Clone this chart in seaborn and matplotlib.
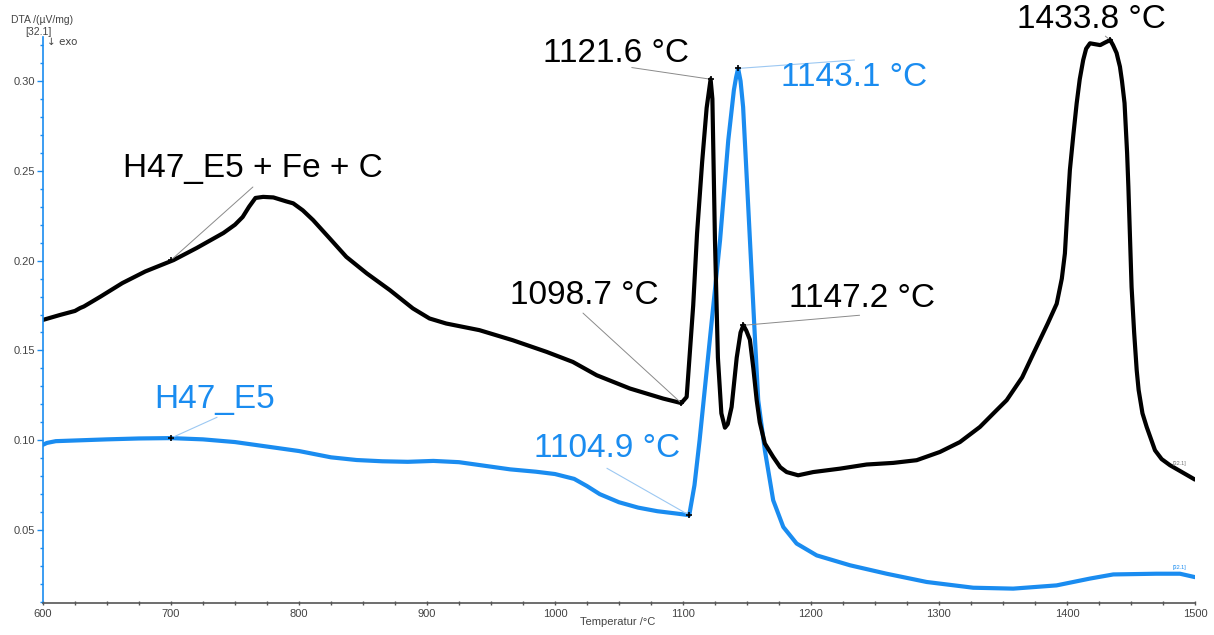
import matplotlib
matplotlib.use("Agg")
import matplotlib.pyplot as plt
import seaborn as sns
import numpy as np
import pandas as pd
from matplotlib.ticker import MultipleLocator, FormatStrFormatter

# ---- data ----
black_T = [600, 613, 625, 629, 632, 645, 662, 680, 702, 720, 741, 750, 756, 761, 766, 772,
           780, 785, 790, 795.5, 803, 811, 824, 837, 853, 871, 889, 902, 915, 941, 967,
           993.5, 1014, 1032.6, 1058.6, 1084.6, 1098.7, 1102.9, 1105.5, 1108, 1111, 1115,
           1118.5, 1121.6, 1123, 1125, 1127.3, 1130, 1132.8, 1135, 1138, 1142, 1145, 1147.2,
           1149.5, 1152.3, 1155, 1157.6, 1160, 1164, 1170.5, 1176, 1181, 1190, 1201.8,
           1222.7, 1243.5, 1264.3, 1282.6, 1300.8, 1316.4, 1332, 1345, 1352.9, 1365, 1374,
           1385, 1392, 1396, 1398.4, 1400.5, 1402.3, 1405, 1407.6, 1410, 1412.7, 1415, 1418,
           1422, 1426, 1430, 1433.8, 1436, 1438.8, 1440, 1441.4, 1443, 1445, 1447, 1448,
           1450.5, 1452.5, 1454.5, 1456, 1459, 1462.3, 1468.8, 1474, 1480.5, 1488.3, 1500]
black_v = [0.167, 0.1697, 0.172, 0.1736, 0.1745, 0.180, 0.1875, 0.194, 0.2003, 0.207,
           0.2154, 0.220, 0.2243, 0.230, 0.2349, 0.2355, 0.2352, 0.2341, 0.2330, 0.2319,
           0.228, 0.2226, 0.2124, 0.2021, 0.1929, 0.1836, 0.1734, 0.1678, 0.1650, 0.1613,
           0.1557, 0.1492, 0.1436, 0.1362, 0.1288, 0.1232, 0.1207, 0.1241, 0.150, 0.175,
           0.215, 0.255, 0.285, 0.301, 0.290, 0.2114, 0.146, 0.115, 0.107, 0.109, 0.1185,
           0.146, 0.160, 0.164, 0.161, 0.156, 0.140, 0.1223, 0.110, 0.0982, 0.0907, 0.085,
           0.0823, 0.0805, 0.0823, 0.0842, 0.0865, 0.0874, 0.0889, 0.0935, 0.0990, 0.1074,
           0.1167, 0.1223, 0.135, 0.1486, 0.165, 0.176, 0.190, 0.204, 0.230, 0.2505, 0.270,
           0.2876, 0.301, 0.3117, 0.318, 0.321, 0.3205, 0.320, 0.3215, 0.3228, 0.320,
           0.3156, 0.312, 0.308, 0.300, 0.2877, 0.260, 0.241, 0.1853, 0.160, 0.139, 0.128,
           0.115, 0.1074, 0.0944, 0.0895, 0.0861, 0.0829, 0.0781]

blue_T = [600, 603, 610, 630, 650, 675, 700, 725, 750, 775, 800, 825, 845, 865, 885, 905,
          925, 945, 965, 985, 1000, 1015, 1025, 1035, 1050, 1065, 1080, 1095, 1104.9, 1109,
          1113, 1121, 1129, 1135.4, 1139.8, 1141.5, 1143.1, 1145, 1147, 1151, 1156.3,
          1158.8, 1164, 1170.5, 1178.4, 1188.8, 1204.5, 1230.5, 1259.1, 1290.4, 1326.8,
          1358, 1391.9, 1418, 1436.2, 1470, 1488.3, 1500]
blue_v = [0.0975, 0.0985, 0.0995, 0.1000, 0.1005, 0.1010, 0.1012, 0.1005, 0.0990, 0.0965,
          0.0940, 0.0905, 0.0890, 0.0883, 0.0880, 0.0885, 0.0878, 0.0858, 0.0838, 0.0825,
          0.0812, 0.0785, 0.0745, 0.0700, 0.0655, 0.0625, 0.0605, 0.0592, 0.0583, 0.075,
          0.100, 0.156, 0.2115, 0.267, 0.295, 0.302, 0.307, 0.300, 0.2855, 0.230, 0.156,
          0.1223, 0.0944, 0.0666, 0.0517, 0.0425, 0.0359, 0.0304, 0.0257, 0.0211, 0.0179,
          0.0174, 0.0192, 0.0230, 0.0253, 0.0257, 0.0257, 0.0238]

black_marks_T = [700, 1098.7, 1121.6, 1147.2, 1433.8]
black_marks_v = [0.2003, 0.1207, 0.301, 0.164, 0.3228]
black_labels = ["H47_E5 + Fe + C", "1098.7 °C", "1121.6 °C", "1147.2 °C", "1433.8 °C"]

blue_marks_T = [700, 1104.9, 1143.1]
blue_marks_v = [0.1012, 0.0583, 0.307]
blue_labels = ["H47_E5", "1104.9 °C", "1143.1 °C"]

# ---- style ----
sns.set_style("white")
plt.rcParams['font.family'] = ['Liberation Sans', 'DejaVu Sans']

BLUE = '#1a8cf0'
GREY = '#444444'

fig = plt.figure(figsize=(12.14, 6.35), dpi=100)
ax = fig.add_axes([0.0354, 0.0504, 0.9489, 0.8913])

df_b = pd.DataFrame({"T": black_T, "v": black_v})
df_u = pd.DataFrame({"T": blue_T, "v": blue_v})
sns.lineplot(data=df_u, x="T", y="v", ax=ax, color=BLUE, lw=3.0, sort=False, estimator=None,
             solid_joinstyle='round', solid_capstyle='round')
sns.lineplot(data=df_b, x="T", y="v", ax=ax, color='black', lw=3.0, sort=False, estimator=None,
             solid_joinstyle='round', solid_capstyle='round')

ax.set_xlim(600, 1500)
ax.set_ylim(0.0094, 0.3245)
ax.set_xlabel("")
ax.set_ylabel("")

for s in ['top', 'right']:
    ax.spines[s].set_visible(False)
ax.spines['left'].set_color(BLUE)
ax.spines['left'].set_linewidth(1.2)
ax.spines['bottom'].set_color('#555555')
ax.spines['bottom'].set_linewidth(1.2)

ax.xaxis.set_major_locator(MultipleLocator(100))
ax.xaxis.set_minor_locator(MultipleLocator(25))
ax.yaxis.set_major_locator(MultipleLocator(0.05))
ax.yaxis.set_minor_locator(MultipleLocator(0.01))
ax.yaxis.set_major_formatter(FormatStrFormatter('%.2f'))
ax.tick_params(axis='x', which='both', direction='inout', length=3, width=1,
               color='#555555', labelsize=8, labelcolor=GREY, pad=3, bottom=True)
ax.tick_params(axis='y', which='major', direction='out', length=4, width=1,
               color=BLUE, labelsize=8, labelcolor=GREY, pad=2, left=True)
ax.tick_params(axis='y', which='minor', direction='out', length=2.5, width=1,
               color=BLUE, left=True)

# axis texts
fig.text(0.035, 0.9685, "DTA /(µV/mg)", fontsize=7.5, color=GREY, ha='center', va='center')
fig.text(0.032, 0.949, "[32.1]", fontsize=7.5, color=GREY, ha='center', va='center')
fig.text(0.0385, 0.934, "↓ exo", fontsize=7.5, color=GREY, ha='left', va='center',
         family=['DejaVu Sans'])
fig.text(0.509, 0.0205, "Temperatur /°C", fontsize=8, color=GREY, ha='center', va='center')

# annotation marks
ax.plot(black_marks_T, black_marks_v, ls='none', marker='+', ms=5, mew=1.2, color='black',
        zorder=5, clip_on=False)
ax.plot(blue_marks_T, blue_marks_v, ls='none', marker='+', ms=5, mew=1.2, color='black',
        zorder=5, clip_on=False)

FS = 24
# text positions (data coords) and leader-line start
black_text_pos = [(764, 0.2515), (1022.7, 0.1808), (1047.6, 0.3156), (1239.8, 0.1791),
                  (1419.5, 0.3340)]
black_line_from = [(764, 0.2410), (1021.9, 0.1708), (1060, 0.3075), (1238, 0.1696),
                   (1430, 0.3250)]
for (xt, yt), (xl, yl), lab, xm, ym in zip(black_text_pos, black_line_from, black_labels,
                                              black_marks_T, black_marks_v):
    ax.plot([xl, xm], [yl, ym], color='#8a8a8a', lw=0.7, zorder=4, clip_on=False)
    ax.text(xt, yt, lab, fontsize=FS, color='black', ha='center', va='center', zorder=6,
            clip_on=False)

blue_text_pos = [(734.4, 0.1228), (1040.6, 0.0955), (1234, 0.3017)]
blue_line_from = [(736, 0.1128), (1040.6, 0.0844), (1234, 0.3117)]
for (xt, yt), (xl, yl), lab, xm, ym in zip(blue_text_pos, blue_line_from, blue_labels,
                                              blue_marks_T, blue_marks_v):
    ax.plot([xl, xm], [yl, ym], color='#9cc8f2', lw=0.8, zorder=4, clip_on=False)
    ax.text(xt, yt, lab, fontsize=FS, color=BLUE, ha='center', va='center', zorder=6,
            clip_on=False)

# small end labels
ax.text(1488, 0.0855, "[32.1]", fontsize=4, color='#777777', ha='center', va='bottom')
ax.text(1488, 0.0275, "[32.1]", fontsize=4, color=BLUE, ha='center', va='bottom')

fig.savefig("out.png", dpi=100)
